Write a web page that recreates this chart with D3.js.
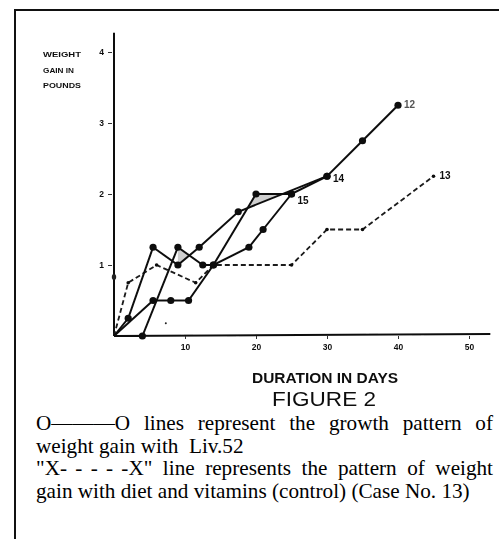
<!DOCTYPE html>
<html>
<head>
<meta charset="utf-8">
<script src="https://cdn.jsdelivr.net/npm/d3@7"></script>
<style>
  html, body { margin: 0; padding: 0; background: #fff; }
  svg { display: block; }
</style>
</head>
<body>
<div id="chartContainer"></div>
<script>
/* DATA */
var xTicks = [10, 20, 30, 40, 50];
var yTicks = [1, 2, 3, 4];

// Liv.52 cases (solid lines, filled dots)
var case12Days = [0, 2, 5.5, 9, 12, 17.5, 30, 35, 40];
var case12Gain = [0, 0.25, 1.25, 1.0, 1.25, 1.75, 2.25, 2.75, 3.25];
var case14Days = [0, 5.5, 8, 10.5, 14, 20, 25, 30];
var case14Gain = [0, 0.5, 0.5, 0.5, 1.0, 2.0, 2.0, 2.25];
var case15Days = [0, 4, 9, 12.5, 14, 19, 21, 25];
var case15Gain = [0, 0, 1.25, 1.0, 1.0, 1.25, 1.5, 2.0];

// control case (dashed line)
var case13Days = [0, 2, 6, 11.5, 14, 25, 30, 35, 45];
var case13Gain = [0, 0.75, 1.0, 0.75, 1.0, 1.0, 1.5, 1.5, 2.25];

var caseNames = ["12", "14", "15", "13"];

// grey ink fills where lines cross (days, gain)
var shadeA = [[9, 1.0], [9, 1.25], [10.6, 1.14]];
var shadeB = [[18.8, 1.8], [20, 2.0], [23.75, 2.0]];

// scan specks (days, gain)
var specks = [[0, 0.83], [7.3, 0.18]];

var captionLines = [
  "O———O lines represent the growth pattern of",
  "weight gain with  Liv.52",
  "\"X- - - - -X\" line represents the pattern of weight",
  "gain with diet and vitamins (control) (Case No. 13)"
];

/* SETUP */
var width = 499;
var height = 539;

var svg = d3.select("#chartContainer")
  .append("svg")
  .attr("width", width)
  .attr("height", height);

svg.append("defs")
  .append("filter")
  .attr("id", "scan")
  .append("feGaussianBlur")
  .attr("stdDeviation", 0.45);

// page frame (top and left edges only)
svg.append("line").attr("x1", 14).attr("x2", width).attr("y1", 10).attr("y2", 10)
  .attr("stroke", "#111").attr("stroke-width", 2);
svg.append("line").attr("x1", 15).attr("x2", 15).attr("y1", 9).attr("y2", height)
  .attr("stroke", "#111").attr("stroke-width", 2);

var x = d3.scaleLinear().domain([0, 50]).range([114, 469]);
var y = d3.scaleLinear().domain([0, 4]).range([336, 52]);

var g = svg.append("g").attr("filter", "url(#scan)");

function pairs(days, gain) {
  return days.map(function(d, i) { return [d, gain[i]]; });
}

var line = d3.line()
  .x(function(d) { return x(d[0]); })
  .y(function(d) { return y(d[1]); });

/* AXES */
g.append("line")
  .attr("x1", x(0)).attr("x2", x(53))
  .attr("y1", y(0)).attr("y2", y(0) - 2)
  .attr("stroke", "#111").attr("stroke-width", 2);
g.append("line")
  .attr("x1", x(0)).attr("x2", x(0))
  .attr("y1", y(0)).attr("y2", y(4.27))
  .attr("stroke", "#111").attr("stroke-width", 2);

var xAxis = d3.axisBottom(x).tickValues(xTicks).tickFormat(d3.format("d")).tickSize(3).tickPadding(5);
var xg = g.append("g").attr("transform", "translate(0," + y(0) + ")").call(xAxis);
var yAxis = d3.axisLeft(y).tickValues(yTicks).tickFormat(d3.format("d")).tickSize(4).tickPadding(4);
var yg = g.append("g").attr("transform", "translate(" + (x(0) - 2) + ",0)").call(yAxis);

[xg, yg].forEach(function(a) {
  a.select(".domain").remove();
  a.selectAll(".tick line").attr("stroke", "#333").attr("stroke-width", 1);
  a.selectAll(".tick text")
    .attr("fill", "#111")
    .style("font-family", "'Liberation Sans', Arial, sans-serif")
    .style("font-weight", "bold")
    .style("font-size", "8.5px");
});

// axis titles
var yTitle = ["WEIGHT", "GAIN IN", "POUNDS"];
var yTitleLen = [38, 31, 38];
g.selectAll(".ytitle")
  .data(yTitle)
  .enter()
  .append("text")
  .attr("x", 43)
  .attr("y", function(d, i) { return 57 + i * 15.5; })
  .attr("textLength", function(d, i) { return yTitleLen[i]; })
  .attr("lengthAdjust", "spacingAndGlyphs")
  .style("font-family", "'Liberation Sans', Arial, sans-serif")
  .style("font-weight", "bold")
  .style("font-size", "7.5px")
  .attr("fill", "#111")
  .text(function(d) { return d; });

g.append("text")
  .attr("x", 252).attr("y", 383)
  .attr("textLength", 146)
  .attr("lengthAdjust", "spacingAndGlyphs")
  .style("font-family", "'Liberation Sans', Arial, sans-serif")
  .style("font-weight", "bold")
  .style("font-size", "14px")
  .attr("fill", "#111")
  .text("DURATION IN DAYS");

g.append("text")
  .attr("x", 272).attr("y", 406)
  .attr("textLength", 104)
  .attr("lengthAdjust", "spacingAndGlyphs")
  .style("font-family", "'Liberation Sans', Arial, sans-serif")
  .style("font-size", "21px")
  .attr("fill", "#111")
  .text("FIGURE 2");

/* SHADES */
g.selectAll(".shade")
  .data([shadeA, shadeB])
  .enter()
  .append("path")
  .attr("d", function(d) { return line(d) + "Z"; })
  .attr("fill", "#cfcfcf");

/* SERIES */
var solid = [pairs(case12Days, case12Gain), pairs(case14Days, case14Gain), pairs(case15Days, case15Gain)];
var dashed = pairs(case13Days, case13Gain);

g.append("path")
  .attr("d", line(dashed))
  .attr("fill", "none")
  .attr("stroke", "#1a1a1a")
  .attr("stroke-width", 1.8)
  .attr("stroke-dasharray", "5,3");

g.selectAll(".cdot")
  .data(dashed.slice(1))
  .enter()
  .append("circle")
  .attr("cx", function(d) { return x(d[0]); })
  .attr("cy", function(d) { return y(d[1]); })
  .attr("r", 1.8)
  .attr("fill", "#111");

g.selectAll(".case")
  .data(solid)
  .enter()
  .append("path")
  .attr("d", line)
  .attr("fill", "none")
  .attr("stroke", "#111")
  .attr("stroke-width", 2);

solid.forEach(function(s) {
  g.selectAll(null)
    .data(s.slice(1))
    .enter()
    .append("circle")
    .attr("cx", function(d) { return x(d[0]); })
    .attr("cy", function(d) { return y(d[1]); })
    .attr("r", 3.6)
    .attr("fill", "#111");
});

// case number labels at each line end
var ends = [solid[0][solid[0].length - 1], solid[1][solid[1].length - 1],
  solid[2][solid[2].length - 1], dashed[dashed.length - 1]];
var labelDx = [6, 6, 6, 6];
var labelDy = [3, 6, 10, 3];
g.selectAll(".clabel")
  .data(caseNames)
  .enter()
  .append("text")
  .attr("x", function(d, i) { return x(ends[i][0]) + labelDx[i]; })
  .attr("y", function(d, i) { return y(ends[i][1]) + labelDy[i]; })
  .style("font-family", "'Liberation Sans Narrow', 'Liberation Sans', Arial, sans-serif")
  .style("font-weight", "bold")
  .style("font-size", "10px")
  .attr("fill", function(d) { return d === "12" ? "#555" : "#111"; })
  .text(function(d) { return d; });

g.selectAll(".speck")
  .data(specks)
  .enter()
  .append("ellipse")
  .attr("cx", function(d) { return x(d[0]); })
  .attr("cy", function(d) { return y(d[1]); })
  .attr("rx", function(d, i) { return i === 0 ? 2.2 : 1; })
  .attr("ry", function(d, i) { return i === 0 ? 3 : 1; })
  .attr("fill", "#222");

/* CAPTION */
var capLeft = 36;
var capRight = 493;
var capTop = 430;
var capStep = 22.7;
var justify = [true, false, true, false];

captionLines.forEach(function(txt, i) {
  var words = txt.split(" ");
  if (i === 2) {
    words = ["\"X- - - - -X\""].concat(txt.split("\" ")[1].split(" "));
  }
  var yy = capTop + i * capStep;
  if (!justify[i]) {
    svg.append("text")
      .attr("x", capLeft).attr("y", yy)
      .attr("xml:space", "preserve")
      .style("font-family", "'Liberation Serif', 'Times New Roman', serif")
      .style("font-size", "21.2px")
      .attr("fill", "#000")
      .text(txt);
    return;
  }
  var ws = words.map(function(w) {
    return svg.append("text")
      .attr("y", yy)
      .attr("xml:space", "preserve")
      .style("font-family", "'Liberation Serif', 'Times New Roman', serif")
      .style("font-size", "21.2px")
      .style("word-spacing", w.indexOf("X") >= 0 ? "3px" : null)
      .attr("fill", "#000")
      .text(w);
  });
  var lens = ws.map(function(t) { return t.node().getComputedTextLength(); });
  var gap = (capRight - capLeft - d3.sum(lens)) / (ws.length - 1);
  var cx = capLeft;
  ws.forEach(function(t, k) {
    t.attr("x", cx);
    cx += lens[k] + gap;
  });
});
</script>
</body>
</html>
